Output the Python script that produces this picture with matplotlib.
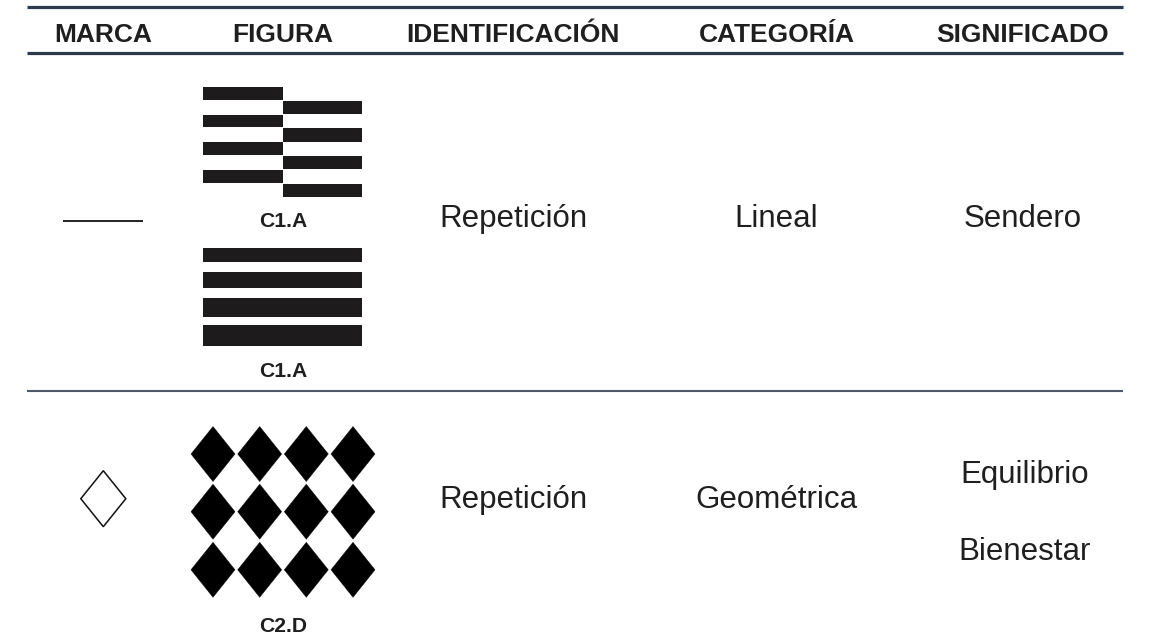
import matplotlib
matplotlib.use("Agg")
import matplotlib.pyplot as plt
from matplotlib.patches import Polygon

plt.rcParams['font.family'] = ['Liberation Sans', 'DejaVu Sans']

# ---- data ----
headers = ["MARCA", "FIGURA", "IDENTIFICACIÓN", "CATEGORÍA", "SIGNIFICADO"]
row1_texts = ["Repetición", "Lineal", "Sendero"]
row2_texts = ["Repetición", "Geométrica"]
row2_meanings = ["Equilibrio", "Bienestar"]
fig_labels = ["C1.A", "C1.A", "C2.D"]

# C1.A (staggered) bar bands: (top, bottom) in pixel units
stag_left = [(86.7, 100.0), (115.0, 127.3), (142.3, 155.0), (170.0, 183.3)]
stag_right = [(100.7, 114.0), (128.3, 141.7), (156.0, 169.3), (184.0, 197.3)]
# C1.A (full) bands
full_bands = [(248.3, 261.7), (272.3, 288.3), (298.3, 316.7), (325.0, 346.0)]
# C2.D diamond grid
diamond_cols = [213.0, 259.7, 306.3, 353.0]
diamond_rows = [454.0, 511.7, 569.8]

# ---- layout ----
W, H = 1150, 637
col_x = [103.5, 283, 513, 776.5, 1023]
left, right = 26.7, 1122.7
bar_color = '#1d1b1b'
txt_color = '#1f1f1f'
line_color = '#2d3a4b'

fig = plt.figure(figsize=(W / 100, H / 100), dpi=100)
ax = fig.add_axes([0, 0, 1, 1])
ax.set_xlim(0, W)
ax.set_ylim(H, 0)
ax.axis('off')

# horizontal rules
ax.hlines([6.7, 52.7], left, right, colors=line_color, linewidth=2.3)
ax.hlines([390.7], left, right, colors='#4f596a', linewidth=1.5)

# headers
for x, h in zip(col_x, headers):
    ax.text(x, 41.7, h, ha='center', va='baseline', fontsize=19,
            fontweight='bold', color=txt_color)

# row 1 texts
for x, t in zip(col_x[2:], row1_texts):
    ax.text(x, 226.7, t, ha='center', va='baseline', fontsize=22.5, color=txt_color)
# row 2 texts
for x, t in zip(col_x[2:4], row2_texts):
    ax.text(x, 508.3, t, ha='center', va='baseline', fontsize=22.5, color=txt_color)
for yb, t in zip([483.3, 560.0], row2_meanings):
    ax.text(col_x[4] + 2, yb, t, ha='center', va='baseline', fontsize=22.5, color=txt_color)

# figure labels
for yb, t in zip([226.7, 377.3, 632.5], fig_labels):
    ax.text(col_x[1], yb, t, ha='center', va='baseline', fontsize=15.2,
            fontweight='bold', color=txt_color)

# MARCA row 1: line
ax.hlines([220.7], 63, 143, colors='#222222', linewidth=1.4)

# FIGURA row 1: staggered bars
bx0, bmid, bx1 = 203, 283, 362
for (t, b) in stag_left:
    ax.barh((t + b) / 2, bmid - bx0, height=b - t, left=bx0, color=bar_color)
for (t, b) in stag_right:
    ax.barh((t + b) / 2, bx1 - bmid, height=b - t, left=bmid, color=bar_color)
for (t, b) in full_bands:
    ax.barh((t + b) / 2, bx1 - bx0, height=b - t, left=bx0, color=bar_color)


def diamond(cx, cy, w, h, **kw):
    return Polygon([(cx, cy - h / 2), (cx + w / 2, cy), (cx, cy + h / 2),
                    (cx - w / 2, cy)], closed=True, **kw)


# MARCA row 2: outline diamond
ax.add_patch(diamond(103.3, 498.7, 45, 56, facecolor='none',
                     edgecolor='#111111', linewidth=1.1))

# FIGURA row 2: diamond grid
for cy in diamond_rows:
    for cx in diamond_cols:
        ax.add_patch(diamond(cx, cy, 44, 55, facecolor='black',
                             edgecolor='black', linewidth=0.3))

fig.savefig('out.png', dpi=100)
